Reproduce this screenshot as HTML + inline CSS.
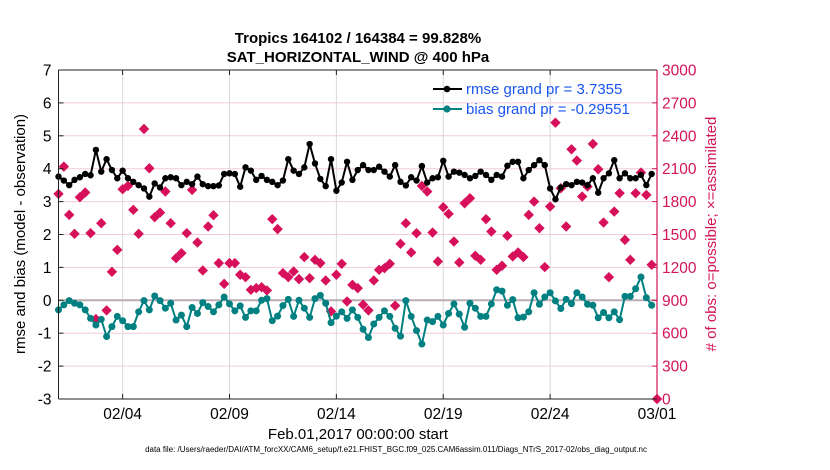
<!DOCTYPE html>
<html><head><meta charset="utf-8"><style>
html,body{margin:0;padding:0;background:#fff;}
svg{display:block;font-family:"Liberation Sans",Arial,sans-serif;}
</style></head><body>
<svg id="chart" width="830" height="470" viewBox="0 0 830 470">
<text x="358" y="43" font-size="15" font-weight="bold" text-anchor="middle">Tropics 164102 / 164384 = 99.828%</text>
<text x="358" y="62" font-size="15" font-weight="bold" text-anchor="middle">SAT_HORIZONTAL_WIND @ 400 hPa</text>
<g id="grid"></g>
<g id="marks"></g>
<g id="axes"></g>
<text transform="translate(25,234) rotate(-90)" font-size="15" text-anchor="middle">rmse and bias (model - observation)</text>
<text transform="translate(716,234) rotate(-90)" font-size="15" fill="#d4145a" text-anchor="middle"># of obs: o=possible; ×=assimilated</text>
<text x="358" y="439" font-size="15" text-anchor="middle">Feb.01,2017 00:00:00 start</text>
<text x="396" y="452" font-size="8" text-anchor="middle">data file: /Users/raeder/DAI/ATM_forcXX/CAM6_setup/f.e21.FHIST_BGC.f09_025.CAM6assim.011/Diags_NTrS_2017-02/obs_diag_output.nc</text>
<g>
<line x1="433" y1="89" x2="462" y2="89" stroke="#000" stroke-width="2"/>
<circle cx="447" cy="89" r="3.3" fill="#000"/>
<text x="466" y="94" font-size="15" fill="#1a55f0">rmse grand pr = 3.7355</text>
<line x1="433" y1="109" x2="462" y2="109" stroke="#008080" stroke-width="2"/>
<circle cx="447" cy="109" r="3.6" fill="#008080"/>
<text x="466" y="114" font-size="15" fill="#1a55f0">bias grand pr = -0.29551</text>
</g>
</svg>
<script>
const rmse=[3.76,3.64,3.50,3.66,3.74,3.84,3.80,4.57,3.91,4.29,3.96,3.71,3.94,3.71,3.60,3.50,3.40,3.15,3.55,3.43,3.71,3.74,3.71,3.50,3.60,3.53,3.76,3.53,3.47,3.47,3.49,3.84,3.86,3.84,3.45,4.04,3.94,3.66,3.78,3.66,3.60,3.50,3.64,4.29,3.94,3.84,4.04,4.75,4.16,3.69,3.47,4.29,3.33,3.58,4.21,3.66,3.96,4.11,3.96,3.96,4.06,3.91,3.76,4.11,3.60,3.49,3.74,3.64,4.08,3.58,3.71,3.74,4.24,3.76,3.91,3.88,3.81,3.71,3.78,3.91,3.81,3.66,3.81,3.76,4.09,4.21,4.21,3.71,3.96,4.11,4.26,4.11,3.40,3.07,3.43,3.53,3.50,3.60,3.58,3.50,3.71,3.27,3.71,3.86,4.26,3.71,3.86,3.71,3.71,3.81,3.50,3.84];
const bias=[-0.29,-0.14,-0.01,-0.09,-0.14,-0.29,-0.55,-0.75,-0.58,-1.10,-0.80,-0.49,-0.62,-0.80,-0.80,-0.35,-0.01,-0.29,0.13,-0.01,-0.24,-0.09,-0.60,-0.45,-0.80,-0.22,-0.40,-0.07,-0.19,-0.35,-0.14,0.10,-0.11,-0.32,-0.17,-0.52,-0.32,-0.32,0.00,0.05,-0.62,-0.48,-0.16,0.03,-0.49,0.00,-0.24,-0.52,0.05,0.15,-0.09,-0.68,-0.48,-0.35,-0.55,-0.29,-0.52,-0.88,-1.13,-0.72,-0.52,-0.32,-0.49,-0.85,-1.09,-0.01,-0.49,-0.92,-1.33,-0.60,-0.65,-0.49,-0.75,-0.40,-0.11,-0.42,-0.82,-0.09,-0.24,-0.49,-0.49,-0.11,0.32,0.28,-0.15,0.02,-0.53,-0.51,-0.35,0.23,-0.12,0.10,0.23,-0.02,-0.25,0.03,-0.10,0.23,0.10,-0.12,-0.15,-0.53,-0.37,-0.53,-0.35,-0.59,0.12,0.12,0.35,0.71,0.08,-0.15];
const nobs=[1870,2119,1679,1506,1840,1883,1512,729,1603,808,1160,1360,1913,1943,1725,1506,2462,2104,1658,1700,1892,1603,1284,1330,1512,1907,1427,1172,1573,1676,1239,1050,1239,1239,1133,1111,996,1011,1020,990,1640,1549,1148,1111,1163,1093,1294,1102,1269,1239,1081,799,1133,1233,890,1041,1011,860,808,1081,1178,1193,1233,851,1415,1603,1336,1512,1943,1892,1518,1254,1749,1688,1436,1245,1785,1831,1306,1269,1640,1527,1178,1215,1488,1300,1336,1294,1679,1800,1558,1203,1755,2520,1922,1573,2277,2174,1846,1937,2326,2095,1609,1111,1709,1877,1451,1269,1877,2065,1861,1224,0];
const leftTicks=[-3,-2,-1,0,1,2,3,4,5,6,7];
const rightTicks=[0,300,600,900,1200,1500,1800,2100,2400,2700,3000];
const dayTicks=[3,8,13,18,23,28];
const dayLabels=["02/04","02/09","02/14","02/19","02/24","03/01"];

const X0=58.5,X1=657,Y0=399,Y1=70,NDAYS=28;
const xDay=d=>X0+d/NDAYS*(X1-X0);
const xIdx=i=>xDay(i/4);
const yL=v=>Y0-(v+3)/10*(Y0-Y1);
const yR=v=>Y0-v/3000*(Y0-Y1);
const NS="http://www.w3.org/2000/svg";
function mk(tag,attrs,parent){const e=document.createElementNS(NS,tag);for(const k in attrs)e.setAttribute(k,attrs[k]);parent.appendChild(e);return e;}
const grid=document.getElementById('grid'),marks=document.getElementById('marks'),axes=document.getElementById('axes');

leftTicks.forEach(v=>{
  if(v!==0&&v!==-3&&v!==7){const g=mk('line',{x1:X0,x2:X1,y1:yL(v),y2:yL(v),stroke:'#f4cbd9','stroke-width':1},grid);
  
  }
  const t=mk('text',{x:X0-7,y:yL(v)+5.5,'font-size':15.5,'text-anchor':'end'},axes);t.textContent=v;
  
  
  mk('line',{x1:X0,x2:X0+5,y1:yL(v),y2:yL(v),stroke:'#222'},axes);
});
rightTicks.forEach(v=>{
  const t=mk('text',{x:X1+5,y:yR(v)+5.5,'font-size':15.5,fill:'#d4145a'},axes);t.textContent=v;
  
  
  mk('line',{x1:X1-5,x2:X1,y1:yR(v),y2:yR(v),stroke:'#d4145a'},axes);
});
dayTicks.forEach((d,k)=>{
  if(d<NDAYS){const g=mk('line',{x1:xDay(d),x2:xDay(d),y1:Y1,y2:Y0,stroke:'#d8d8d8','stroke-width':1},grid);
  
  }
  mk('line',{x1:xDay(d),x2:xDay(d),y1:Y0,y2:Y0-5,stroke:'#222'},axes);
  mk('line',{x1:xDay(d),x2:xDay(d),y1:Y1,y2:Y1+5,stroke:'#222'},axes);
  const t=mk('text',{x:xDay(d),y:419,'font-size':15.5,'text-anchor':'middle'},axes);t.textContent=dayLabels[k];
  
  
});
const zl=mk('line',{x1:X0,x2:X1,y1:yL(0),y2:yL(0),stroke:'#b9aeb3','stroke-width':2},grid);



nobs.forEach((v,i)=>{
  const x=xIdx(i),y=yR(v);
  const d=mk('path',{d:`M${x} ${y-5.2}L${x+5.2} ${y}L${x} ${y+5.2}L${x-5.2} ${y}Z`,fill:'#d6105a'},marks);
  
  
});
function series(vals,color,r,name){
  const p=mk('polyline',{points:vals.map((v,i)=>xIdx(i)+','+yL(v)).join(' '),fill:'none',stroke:color,'stroke-width':2,'stroke-linejoin':'round'},marks);
  
  
  vals.forEach((v,i)=>{const c=mk('circle',{cx:xIdx(i),cy:yL(v),r:r,fill:color},marks);
    
    });
}
series(bias,'#008080',3.5,'bias');
series(rmse,'#000',3.2,'rmse');

mk('line',{x1:X0,x2:X1,y1:Y1,y2:Y1,stroke:'#222'},axes);
mk('line',{x1:X0,x2:X1,y1:Y0,y2:Y0,stroke:'#222'},axes);
mk('line',{x1:X0,x2:X0,y1:Y1,y2:Y0,stroke:'#222'},axes);
mk('line',{x1:X1,x2:X1,y1:Y1,y2:Y0,stroke:'#d4145a','stroke-width':1.2},axes);
</script>
</body></html>
